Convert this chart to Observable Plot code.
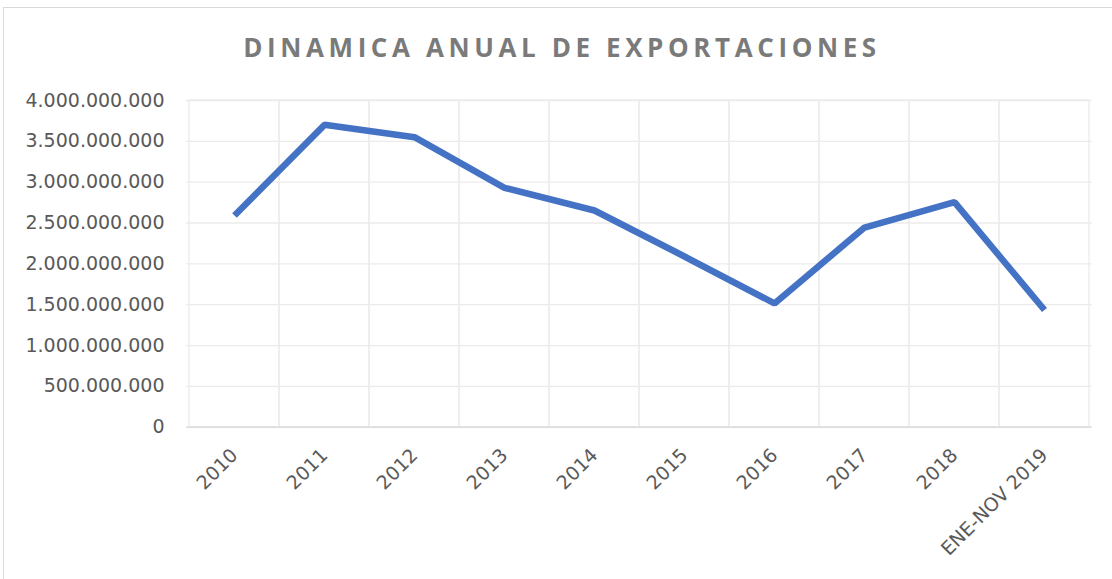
<!DOCTYPE html>
<html><head><meta charset="utf-8">
<script src="https://cdn.jsdelivr.net/npm/d3@7"></script>
<script src="https://cdn.jsdelivr.net/npm/@observablehq/plot@0.6"></script>
<style>
body{margin:0;background:#fff;width:1112px;height:579px;overflow:hidden;position:relative;}
#frame{position:absolute;left:3px;top:7px;width:1200px;height:700px;border:1px solid #d9d9d9;box-sizing:border-box;}
#title{position:absolute;top:29px;left:6px;width:1112px;text-align:center;font-family:"Open Sans";font-weight:700;font-size:26px;letter-spacing:4.6px;color:#7a7a7a;white-space:nowrap;}
#chart{position:absolute;top:85px;left:0;}
</style></head>
<body>
<div id="frame"></div>
<div id="title">DINAMICA ANUAL DE EXPORTACIONES</div>
<div id="chart"></div>
<script>
const categories = ["2010","2011","2012","2013","2014","2015","2016","2017","2018","ENE-NOV 2019"];
const values = [2592000000, 3702000000, 3551000000, 2931000000, 2653000000, 2090000000, 1515000000, 2445000000, 2755000000, 1435000000];
const yTicks = [0, 500000000, 1000000000, 1500000000, 2000000000, 2500000000, 3000000000, 3500000000, 4000000000];

const data = categories.map((c, i) => ({cat: c, value: values[i]}));
const loc = d3.formatLocale({decimal: ",", thousands: ".", grouping: [3], currency: ["", ""]});
const fmt = loc.format(",.0f");

const chart = Plot.plot({
  width: 1112, height: 494,
  marginTop: 15, marginBottom: 152.3, marginLeft: 186, marginRight: 20.3,
  style: {fontFamily: "DejaVu Sans", color: "#595959", background: "transparent"},
  x: {type: "band", domain: categories, padding: 0},
  y: {domain: [0, 4000000000]},
  marks: [
    Plot.barY(categories, {x: d => d, y1: 0, y2: 4000000000, fill: "none", stroke: "#ebebeb", strokeWidth: 1.3}),
    Plot.ruleY(yTicks, {stroke: "#ebebeb", strokeWidth: 1.3}),
    Plot.ruleY([0], {stroke: "#d9d9d9", strokeWidth: 1.3}),
    Plot.line(data, {x: "cat", y: "value", stroke: "#4472C4", strokeWidth: 6.5, strokeLinejoin: "miter", strokeLinecap: "butt"}),
    Plot.axisY({ticks: yTicks, tickFormat: fmt, tickSize: 0, tickPadding: 22, fontSize: 19, label: null}),
    Plot.axisX({tickRotate: -45, tickSize: 0, tickPadding: 25, fontSize: 19, label: null})
  ]
});
document.getElementById("chart").appendChild(chart);
</script>
</body></html>
